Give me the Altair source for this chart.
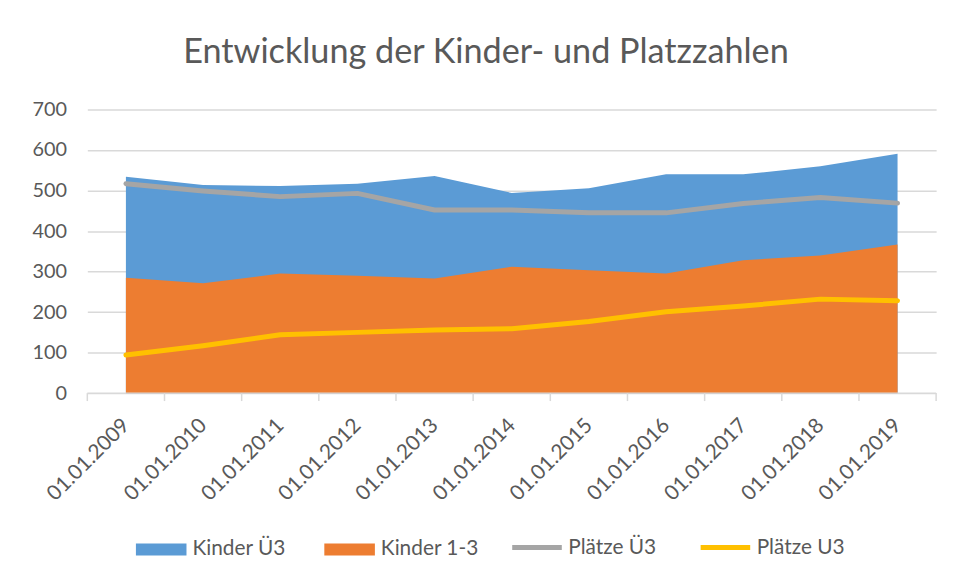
import altair as alt
import pandas as pd

labels = ["01.01.2009", "01.01.2010", "01.01.2011", "01.01.2012", "01.01.2013",
          "01.01.2014", "01.01.2015", "01.01.2016", "01.01.2017", "01.01.2018",
          "01.01.2019"]
kinder_ue3 = [534, 514, 511, 517, 536, 494, 506, 540, 540, 560, 591]
kinder_13 = [285, 271, 295, 290, 283, 312, 303, 295, 328, 340, 367]
plaetze_ue3 = [517, 499, 485, 493, 452, 452, 445, 445, 468, 483, 469]
plaetze_u3 = [94, 117, 144, 150, 156, 159, 177, 201, 215, 232, 228]

idx = list(range(len(labels)))
df_a1 = pd.DataFrame({"i": idx, "v": kinder_ue3, "s": "Kinder Ü3"})
df_a2 = pd.DataFrame({"i": idx, "v": kinder_13, "s": "Kinder 1-3"})
df_l1 = pd.DataFrame({"i": idx, "v": plaetze_ue3, "s": "Plätze Ü3"})
df_l2 = pd.DataFrame({"i": idx, "v": plaetze_u3, "s": "Plätze U3"})
tick_pos = pd.DataFrame({"i": [i - 0.5 for i in range(len(labels) + 1)]})

TXT = "#595959"
GRID = "#d9d9d9"
FONT = "Lato"

xscale = alt.Scale(domain=[-0.5, len(labels) - 0.5], nice=False, zero=False)
yscale = alt.Scale(domain=[0, 700], nice=False)
label_expr = "[" + ",".join("'" + l + "'" for l in labels) + "][datum.value]"

fill_scale = alt.Scale(domain=["Kinder Ü3", "Kinder 1-3"], range=["#5b9bd5", "#ed7d31"])
stroke_scale = alt.Scale(domain=["Plätze Ü3", "Plätze U3"], range=["#a5a5a5", "#ffc000"])

x_lab = alt.X("i:Q", scale=xscale, axis=alt.Axis(
    values=idx, labelExpr=label_expr, ticks=False, domain=False, grid=False,
    labelAngle=-45, labelFontSize=21, labelColor=TXT, labelFont=FONT,
    labelAlign="right", labelBaseline="middle", labelPadding=29, title=None,
    labelOverlap=False, labelBound=False, labelFlush=False))
y_ax = alt.Y("v:Q", scale=yscale, axis=alt.Axis(
    values=list(range(0, 701, 100)), grid=True, gridColor=GRID, gridWidth=1.5,
    domain=False, ticks=False, labelFontSize=20, labelColor=TXT, labelFont=FONT,
    labelPadding=21, title=None))
x_plain = alt.X("i:Q", scale=xscale)
y_plain = alt.Y("v:Q", scale=yscale)

area1 = alt.Chart(df_a1).mark_area(opacity=1).encode(
    x=x_lab, y=y_ax,
    fill=alt.Fill("s:N", scale=fill_scale, legend=alt.Legend(
        orient="none", legendX=49, legendY=418, direction="horizontal",
        title=None, labelFontSize=21, labelColor=TXT, labelFont=FONT,
        symbolType="M-1,-0.24H1V0.24H-1Z", symbolSize=2601, symbolStrokeWidth=0,
        symbolOpacity=1, labelOffset=6, columnPadding=38, labelLimit=300)))
area2 = alt.Chart(df_a2).mark_area(opacity=1).encode(
    x=x_plain, y=y_plain,
    fill=alt.Fill("s:N", scale=fill_scale))
line1 = alt.Chart(df_l1).mark_line(strokeWidth=5, strokeCap="round", strokeJoin="round").encode(
    x=x_plain, y=y_plain,
    stroke=alt.Stroke("s:N", scale=stroke_scale, legend=alt.Legend(
        orient="none", legendX=426, legendY=414, direction="horizontal",
        title=None, labelFontSize=21, labelColor=TXT, labelFont=FONT,
        symbolType="stroke", symbolSize=2500, symbolStrokeWidth=5,
        labelOffset=4, columnPadding=34, labelLimit=300)))
line2 = alt.Chart(df_l2).mark_line(strokeWidth=5, strokeCap="round", strokeJoin="round").encode(
    x=x_plain, y=y_plain,
    stroke=alt.Stroke("s:N", scale=stroke_scale))
baseline = alt.Chart(tick_pos).mark_rule(color=GRID, strokeWidth=1.5).encode(
    x=alt.X("min(i):Q", scale=xscale),
    x2=alt.X2("max(i):Q"),
    y=alt.datum(0))
ticks = alt.Chart(tick_pos).mark_rule(color=GRID, strokeWidth=1.5, y2Offset=8).encode(
    x=x_plain, y=alt.datum(0), y2=alt.datum(0))

chart = alt.layer(area1, area2, line1, line2, baseline, ticks).properties(
    width=856, height=286,
    title=alt.TitleParams("Entwicklung der Kinder- und Platzzahlen", fontSize=34.5,
                          font=FONT, color=TXT, fontWeight="normal", anchor="middle",
                          frame="group", dx=-26, offset=29),
    autosize=alt.AutoSizeParams(type="none"),
    padding={"left": 80, "top": 100, "right": 15, "bottom": 178},
).configure_view(stroke=None)

chart.save("out.html", embed_options={"renderer": "svg", "actions": False})
